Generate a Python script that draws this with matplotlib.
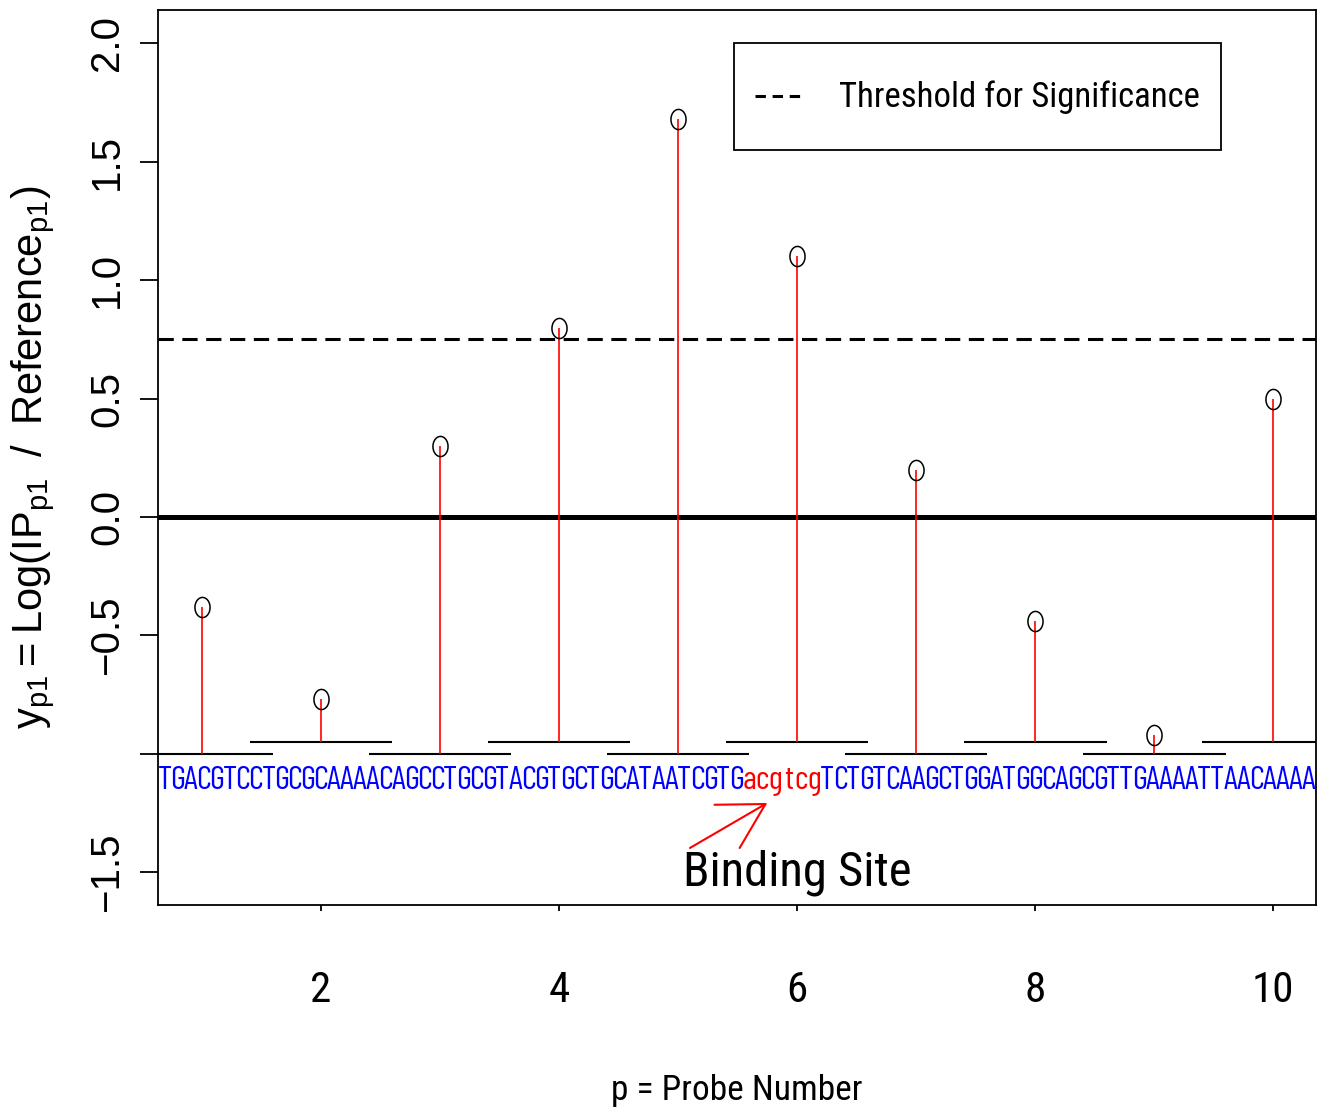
import numpy as np
import matplotlib
matplotlib.use("Agg")
import matplotlib.pyplot as plt
from matplotlib import font_manager
from matplotlib.lines import Line2D
from matplotlib.path import Path

# probe values
probes = [1, 2, 3, 4, 5, 6, 7, 8, 9, 10]
log_ratio = [-0.38, -0.77, 0.30, 0.80, 1.68, 1.10, 0.20, -0.44, -0.92, 0.50]
probe_base = [-1.0, -0.95, -1.0, -0.95, -1.0, -0.95, -1.0, -0.95, -1.0, -0.95]
threshold = 0.75

seq_left = "TGACGTCCTGCGCAAAACAGCCTGCGTACGTGCTGCATAATCGTG"
seq_site = "acgtcg"
seq_right = "TCTGTCAAGCTGGATGGCAGCGTTGAAAATTAACAAAA"

xticks = [2, 4, 6, 8, 10]
yticks = [-1.5, -1.0, -0.5, 0.0, 0.5, 1.0, 1.5, 2.0]
ytick_labels = ["\u22121.5", "", "\u22120.5", "0.0", "0.5", "1.0", "1.5", "2.0"]

narrow = 'Roboto Condensed'
seq_font = 'Barlow Condensed'

plt.rcParams['font.family'] = ['Liberation Sans', 'DejaVu Sans']
plt.rcParams['mathtext.fontset'] = 'custom'
plt.rcParams['mathtext.rm'] = 'Liberation Sans'

fig = plt.figure(figsize=(13.31, 11.19), dpi=100)
ax = fig.add_axes([0.1187, 0.1912, 0.8700, 0.8000])
ax.set_xlim(0.63, 10.36)
ax.set_ylim(-1.638, 2.141)

# zero line and threshold
ax.axhline(0, color='black', lw=3.6, zorder=2)
ax.axhline(threshold, color='black', lw=2.2, ls='--', dashes=(5, 2.8), zorder=2)

# probe segments
for p, b in zip(probes, probe_base):
    ax.plot([p - 0.6, p + 0.6], [b, b], color='black', lw=1.5, zorder=3,
            solid_capstyle='butt')

# stems
ax.vlines(probes, probe_base, log_ratio, color='red', lw=1.2, zorder=4)

# open ellipse markers (picture is squeezed sideways)
t = np.linspace(0, 2 * np.pi, 60)
ell = Path(np.column_stack([0.75 * np.cos(t), np.sin(t)]))
ax.plot(probes, log_ratio, ls='none', marker=ell, ms=14.5, mfc='none',
        mec='black', mew=1.1, zorder=6)

# DNA sequence, one character per step
step = 0.1092
x0 = 0.63
seq_y = -1.148
for i, ch in enumerate(seq_left + seq_site + seq_right):
    is_site = len(seq_left) <= i < len(seq_left) + len(seq_site)
    ax.text(x0 + step * (i + 0.5), seq_y, ch, ha='center', va='baseline',
            color='red' if is_site else 'blue', fontsize=24,
            fontfamily=seq_font, clip_on=True, zorder=3)

ax.annotate('', xy=(5.75, -1.207), xytext=(5.10, -1.397),
            arrowprops=dict(arrowstyle='->,head_length=1.6,head_width=0.9',
                            color='red', lw=1.5, shrinkA=0, shrinkB=0,
                            mutation_scale=20))
ax.text(6.0, -1.50, "Binding Site", ha='center', va='center', fontsize=35,
        fontfamily=narrow)

# axes, ticks
for s in ax.spines.values():
    s.set_linewidth(1.3)
ax.set_xticks(xticks)
ax.set_xticklabels([str(v) for v in xticks], fontfamily=narrow, fontsize=31)
ax.tick_params(axis='x', length=4, width=1.3, pad=43)
ax.set_yticks(yticks)
ax.set_yticklabels(ytick_labels, rotation=90, va='center', fontsize=29)
ax.tick_params(axis='y', length=13, width=1.3, pad=10)

ax.set_xlabel("p = Probe Number", fontfamily=narrow, fontsize=25.5)
ax.xaxis.set_label_coords(0.5, -0.189)
ax.set_ylabel(r'$\mathregular{y_{p1} = Log(IP_{p1}\ \,/\ \,Reference_{p1})}$', fontsize=30)
ax.yaxis.set_label_coords(-0.087, 0.5)

leg = ax.legend(handles=[Line2D([], [], color='black', lw=2.2, ls='--', dashes=(3.4, 2.2))],
                labels=["Threshold for Significance"], loc='upper right',
                bbox_to_anchor=(0.918, 0.963), borderaxespad=0, fancybox=False,
                edgecolor='black', framealpha=1,
                prop=font_manager.FontProperties(family=narrow, size=25),
                handlelength=1.44, handletextpad=1.0, borderpad=0.6,
                handleheight=2.5)
leg.get_frame().set_linewidth(1.3)
# drop the dashed sample down to the text's middle
for ln in leg.get_lines():
    ln.set_ydata(np.asarray(ln.get_ydata()) - 8.0)

fig.savefig('out.png', dpi=100)
